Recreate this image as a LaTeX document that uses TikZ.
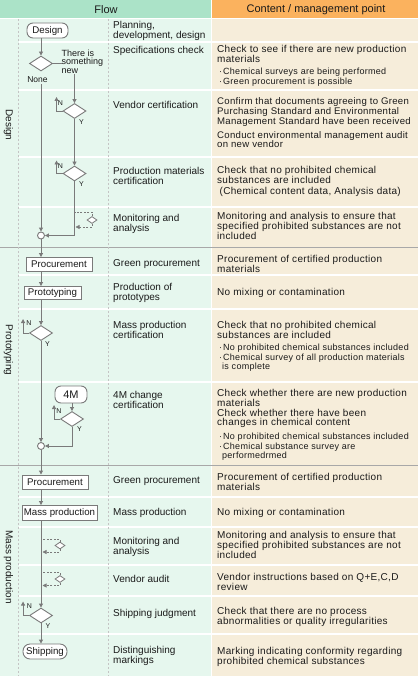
\documentclass[tikz,border=0pt]{standalone}
\usepackage{fontspec}
\setmainfont{Liberation Sans}
\newfontfamily\cfont[LetterSpace=3]{Liberation Sans}
\usetikzlibrary{shapes.geometric,arrows.meta}
\definecolor{hdrgreen}{HTML}{ABE3C8}
\definecolor{hdrorange}{HTML}{FBB25E}
\definecolor{bodygreen}{HTML}{E6F7EE}
\definecolor{bodybeige}{HTML}{F6EDDA}
\definecolor{linegray}{HTML}{7A7A7A}
\definecolor{sepgray}{HTML}{A8A8A8}
\definecolor{dashgray}{HTML}{C4C4C4}
\definecolor{txt}{HTML}{1A1A1A}
\begin{document}
\begin{tikzpicture}[x=1pt,y=-1pt,
  flowline/.style={draw=linegray, line width=0.9pt},
  arr/.style={-{Triangle[length=4pt,width=4pt]}},
  dashline/.style={draw=linegray, line width=0.8pt, dash pattern=on 2pt off 1.5pt},
  boxn/.style={draw=linegray, fill=white, line width=0.9pt, inner sep=0pt, text=txt, font={\fontsize{9.7}{10}\selectfont}},
  termn/.style={boxn, rounded corners=6pt},
  decn/.style={diamond, draw=linegray, fill=white, line width=0.9pt, inner sep=0pt, minimum width=23pt, minimum height=15pt},
  smalldec/.style={diamond, draw=linegray, fill=white, line width=0.8pt, inner sep=0pt, minimum width=10pt, minimum height=7pt},
  joinn/.style={circle, draw=linegray, fill=white, line width=0.9pt, inner sep=0pt, minimum size=7pt},
  yn/.style={inner sep=0pt, text=txt, font={\fontsize{7}{7}\selectfont}},
  nm/.style={anchor=north west, inner sep=0pt, align=left, text=txt, font={\fontsize{10}{9.8}\selectfont}},
  ct/.style={anchor=north west, inner sep=0pt, align=left, text=txt, font={\cfont\fontsize{10}{9.8}\selectfont}},
  ctn/.style={ct, font={\cfont\fontsize{9.6}{9.8}\selectfont}},
  bl/.style={anchor=north west, inner sep=0pt, align=left, text=txt, font={\cfont\fontsize{9}{9.3}\selectfont}},
  sect/.style={rotate=-90, inner sep=0pt, text=txt, font={\fontsize{10}{10}\selectfont}},
  hdr/.style={inner sep=0pt, text=txt, font={\fontsize{11}{11}\selectfont}},
]
\useasboundingbox (0,0) rectangle (418,676);
% backgrounds
\fill[white] (0,0) rectangle (418,676);
\fill[hdrgreen] (0,0) rectangle (210.5,18);
\fill[hdrorange] (212,0) rectangle (418,18);
\fill[bodygreen] (0,19) rectangle (210.5,676);
\fill[bodybeige] (212,19) rectangle (418,676);
\foreach \y in {42,90,157,207,275,309,382,497,527,565,596,634}{
  \draw[white, line width=1.5pt] (19,\y) -- (210.5,\y);
  \draw[white, line width=1.5pt] (212,\y) -- (418,\y);
}
\foreach \y in {247,465}{\draw[sepgray, line width=1pt] (0,\y) -- (418,\y);}
\draw[dashgray, line width=0.8pt, dash pattern=on 2pt off 2pt] (18.5,19) -- (18.5,676);
\draw[dashgray, line width=0.8pt, dash pattern=on 2pt off 2pt] (108.5,19) -- (108.5,676);

% header
\node[hdr] (hflow) at (106,9.5) {Flow};
\node[hdr] (hcont) at (316,9.5) {Content / management point};

% section labels
\node[sect] (sdesign) at (8.5,125) {Design};
\node[sect] (sproto) at (8.5,350) {Prototyping};
\node[sect] (smass) at (8.5,567) {Mass production};

% flow nodes
\node[termn, minimum width=41pt, minimum height=15pt] (design) at (47.5,30.5) {Design};
\node[decn] (d1) at (41,63.5) {};
\node[anchor=west, inner sep=0pt, align=left, text=txt, font={\fontsize{9}{8.5}\selectfont}] (newl) at (61.5,61.5) {There is\\something\\new};
\node[inner sep=0pt, text=txt, font={\fontsize{8.5}{8.5}\selectfont}] (none) at (37.5,80) {None};
\node[decn] (d2) at (74.5,111) {};
\node[decn] (d3) at (74.5,173.5) {};
\node[smalldec] (m1) at (92,220) {};
\node[joinn] (c1) at (41,235.5) {};
\node[boxn, minimum width=66pt, minimum height=14pt] (proc1) at (59,264.5) {Procurement};
\node[boxn, minimum width=57pt, minimum height=13pt] (proto) at (52.5,293) {Prototyping};
\node[decn] (d4) at (41,333) {};
\node[termn, minimum width=32pt, minimum height=17pt, font={\fontsize{11}{11}\selectfont}] (fourm) at (71,394.5) {4M};
\node[decn] (d5) at (72,419) {};
\node[joinn] (c2) at (41,446) {};
\node[boxn, minimum width=66pt, minimum height=14pt] (proc2) at (55,482) {Procurement};
\node[boxn, minimum width=75pt, minimum height=15pt] (mass) at (59.5,513) {Mass production};
\node[smalldec] (m2) at (60,545.5) {};
\node[smalldec] (m3) at (60,579) {};
\node[decn] (d6) at (41,615.5) {};
\node[termn, minimum width=44pt, minimum height=15pt, rounded corners=7pt] (ship) at (45,651.5) {Shipping};

% free-end coordinates
\coordinate (m1a) at (74.5,212);
\coordinate (m1b) at (75.5,227);
\coordinate (m2a) at (42.5,539);
\coordinate (m2b) at (42.5,552);
\coordinate (m3a) at (42.5,572.5);
\coordinate (m3b) at (42.5,585.5);

% connectors
\draw[flowline,arr] (d1 |- design.south) -- (d1.north);
\draw[flowline] (d1.east) -- (newl.west |- d1.east);
\draw[flowline,arr] (d2 |- newl.south) -- (d2.north);
\draw[flowline,arr] ([yshift=-1pt]d1 |- none.south) -- (c1.north);
\draw[flowline,arr] (d2.west) -- ++(-6,0) -- ++(0,-14);
\draw[flowline,arr] (d2.south) -- (d3.north);
\draw[flowline,arr] (d3.west) -- ++(-6,0) -- ++(0,-13);
\draw[flowline,arr] (d3.south) |- (c1.east);
\draw[dashline] (m1.north) |- (m1a);
\draw[dashline,arr] (m1.south) |- (m1b);
\draw[flowline,arr] (c1.south) -- (c1 |- proc1.north);
\draw[flowline,arr] (c1 |- proc1.south) -- (c1 |- proto.north);
\draw[flowline,arr] (d4 |- proto.south) -- (d4.north);
\draw[flowline,arr] (d4.west) -- ++(-6,0) -- ++(0,-14);
\draw[flowline,arr] (d4.south) -- (c2.north);
\draw[flowline,arr] (d5 |- fourm.south) -- (d5.north);
\draw[flowline,arr] (d5.west) -- ++(-6,0) -- ++(0,-14);
\draw[flowline,arr] (d5.south) |- (c2.east);
\draw[flowline,arr] (c2.south) -- (c2 |- proc2.north);
\draw[flowline,arr] (c2 |- proc2.south) -- (c2 |- mass.north);
\draw[flowline,arr] (d6 |- mass.south) -- (d6.north);
\draw[dashline] (m2.north) |- (m2a);
\draw[dashline,arr] (m2.south) |- (m2b);
\draw[dashline] (m3.north) |- (m3a);
\draw[dashline,arr] (m3.south) |- (m3b);
\draw[flowline,arr] (d6.west) -- ++(-6,0) -- ++(0,-14);
\draw[flowline,arr] (d6.south) -- (d6 |- ship.north);

% N / Y labels
\node[yn] (n2) at (60.5,103.5) {N};
\node[yn] (y2) at (81.5,122) {Y};
\node[yn] (n3) at (60.5,166) {N};
\node[yn] (y3) at (81.5,184.5) {Y};
\node[yn] (n4) at (29,323.5) {N};
\node[yn] (y4) at (47.5,344.5) {Y};
\node[yn] (n5) at (59,411) {N};
\node[yn] (y5) at (79.5,429) {Y};
\node[yn] (n6) at (29.5,606.5) {N};
\node[yn] (y6) at (48,626) {Y};

% step names
\node[nm] (t1) at (113,21) {Planning,\\development, design};
\node[nm] (t2) at (113,46.5) {Specifications check};
\node[nm] (t3) at (113,101) {Vendor certification};
\node[nm] (t4) at (113,167.5) {Production materials\\certification};
\node[nm] (t5) at (113,214) {Monitoring and\\analysis};
\node[nm] (t6) at (113,259) {Green procurement};
\node[nm] (t7) at (113,283) {Production of\\prototypes};
\node[nm] (t8) at (113,321.5) {Mass production\\certification};
\node[nm] (t9) at (113,391) {4M change\\certification};
\node[nm] (t10) at (113,476.5) {Green procurement};
\node[nm] (t11) at (113,508) {Mass production};
\node[nm] (t12) at (113,537) {Monitoring and\\analysis};
\node[nm] (t13) at (113,575) {Vendor audit};
\node[nm] (t14) at (113,609) {Shipping judgment};
\node[nm] (t15) at (113,646) {Distinguishing\\markings};

% content
\node[ct] (k2) at (217,45) {Check to see if there are new production\\materials};
\node[bl] (k2b) at (219,68) {·\kern1pt Chemical surveys are being performed\\·\kern1pt Green procurement is possible};
\node[ctn] (k3) at (217,97.5) {Confirm that documents agreeing to Green\\Purchasing Standard and Environmental\\Management Standard have been received};
\node[ctn] (k3b) at (217,131) {Conduct environmental management audit\\on new vendor};
\node[ct] (k4) at (217,166) {Check that no prohibited chemical\\substances are included\\[1.5pt]\hspace*{2.5pt}(Chemical content data, Analysis data)};
\node[ct] (k5) at (217,212.5) {Monitoring and analysis to ensure that\\specified prohibited substances are not\\included};
\node[ct] (k6) at (217,255) {Procurement of certified production\\materials};
\node[ct] (k7) at (217,288) {No mixing or contamination};
\node[ct] (k8) at (217,321) {Check that no prohibited chemical\\substances are included};
\node[bl] (k8b) at (219,344) {·\kern1pt No prohibited chemical substances included\\·\kern1pt Chemical survey of all production materials\\\hspace*{3pt}is complete};
\node[ct] (k9) at (217,389) {Check whether there are new production\\materials\\Check whether there have been\\changes in chemical content};
\node[bl] (k9b) at (219,433) {·\kern1pt No prohibited chemical substances included\\·\kern1pt Chemical substance survey are\\\hspace*{3pt}performedrmed};
\node[ct] (k10) at (217,473) {Procurement of certified production\\materials};
\node[ct] (k11) at (217,508) {No mixing or contamination};
\node[ct] (k12) at (217,531) {Monitoring and analysis to ensure that\\specified prohibited substances are not\\included};
\node[ct] (k13) at (217,573) {Vendor instructions based on Q+E,C,D\\review};
\node[ct] (k14) at (217,607) {Check that there are no process\\abnormalities or quality irregularities};
\node[ct] (k15) at (217,647) {Marking indicating conformity regarding\\prohibited chemical substances};
\end{tikzpicture}
\end{document}
